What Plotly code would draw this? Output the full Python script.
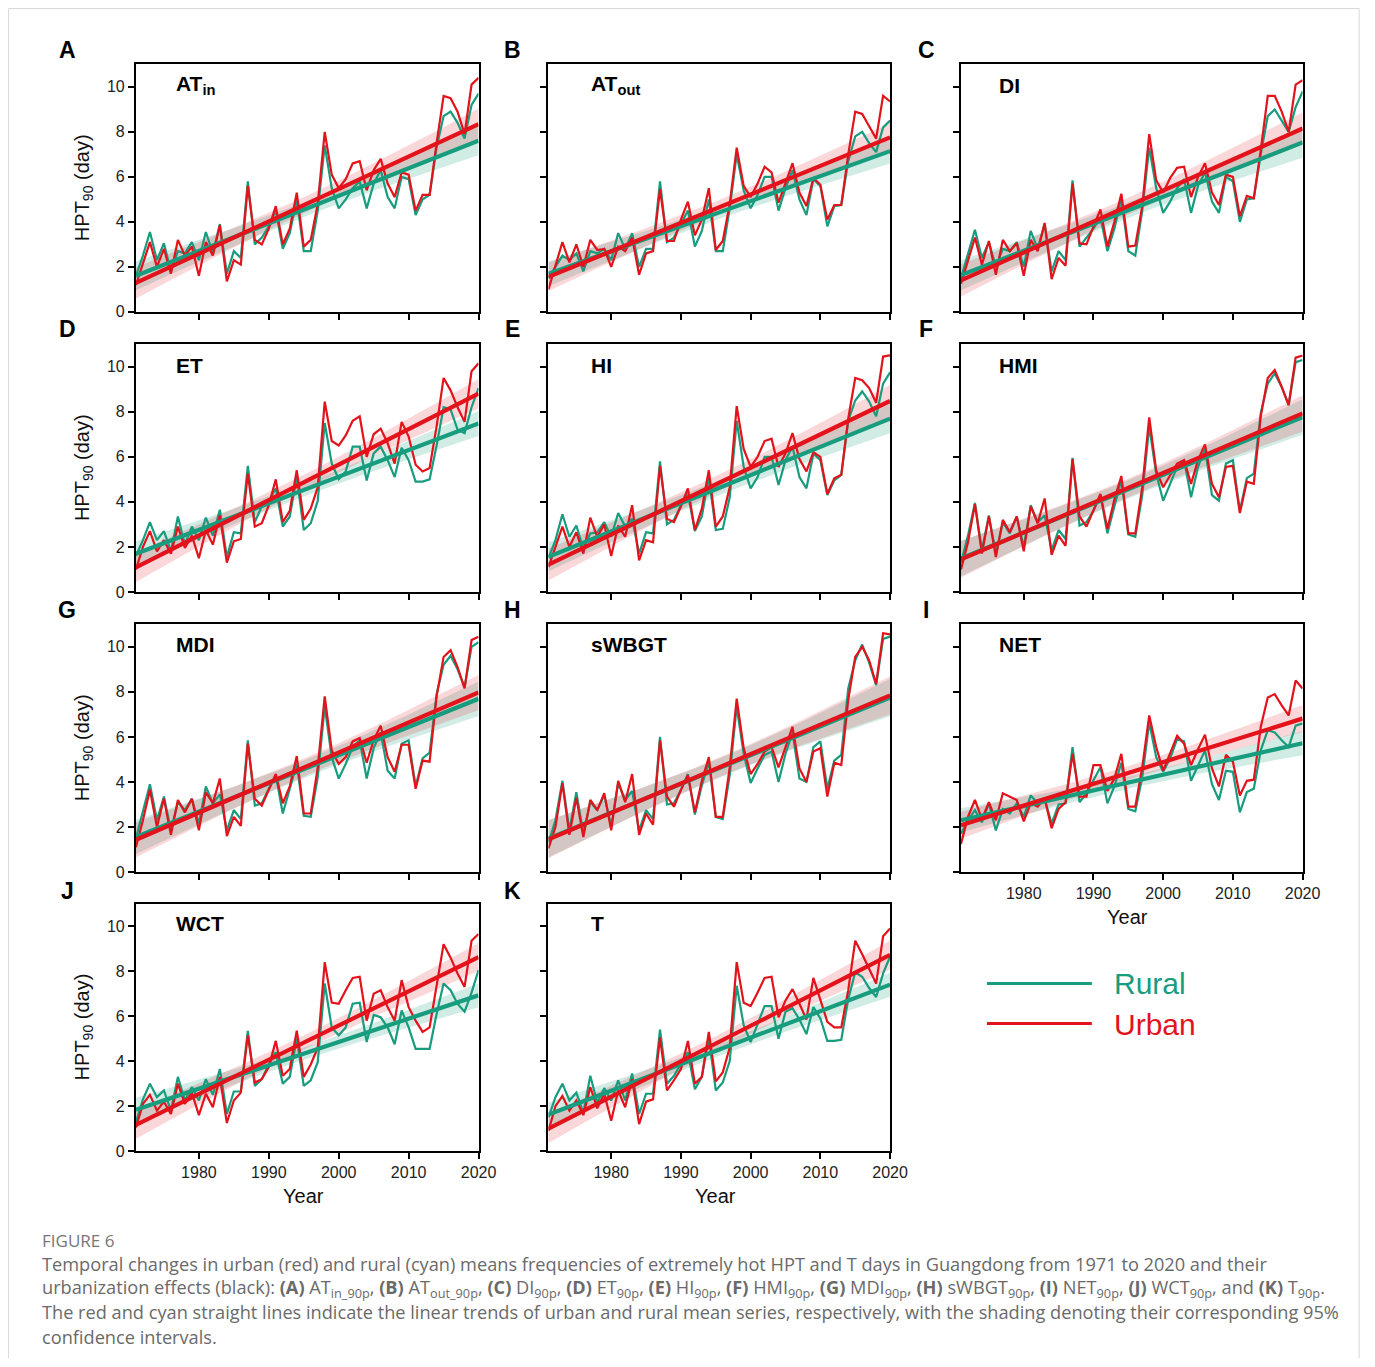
import numpy as np
import plotly.graph_objects as go

YEARS = list(range(1971, 2021))

PANEL_LETTERS = ["A", "B", "C", "D", "E", "F", "G", "H", "I", "J", "K"]
PANEL_NAMES = ["AT<sub>in</sub>", "AT<sub>out</sub>", "DI", "ET", "HI", "HMI",
               "MDI", "sWBGT", "NET", "WCT", "T"]
X_TICKS = [1980, 1990, 2000, 2010, 2020]
Y_TICKS = [0, 2, 4, 6, 8, 10]

AT_IN_URBAN = [1.2, 2.2, 3.1, 2.0, 2.8, 1.7, 3.2, 2.5, 2.9, 1.6,
               3.1, 2.5, 3.85, 1.35, 2.3, 2.1, 5.6, 3.2, 3.0, 3.7,
               4.7, 3.0, 3.7, 5.3, 2.9, 3.2, 4.8, 8.0, 6.1, 5.5,
               5.9, 6.6, 6.7, 5.4, 6.3, 6.8, 5.7, 5.1, 6.2, 6.1,
               4.5, 5.2, 5.2, 7.5, 9.6, 9.5, 8.9, 7.9, 10.1, 10.4]
AT_IN_RURAL = [1.6, 2.5, 3.55, 2.3, 3.05, 1.8, 2.7, 2.6, 3.1, 2.3,
               3.55, 2.6, 3.9, 1.7, 2.7, 2.4, 5.8, 3.0, 3.3, 3.8,
               4.5, 2.8, 3.5, 5.0, 2.7, 2.7, 4.5, 7.4, 5.5, 4.6,
               5.0, 5.5, 5.8, 4.6, 5.7, 6.3, 5.1, 4.6, 6.0, 5.9,
               4.3, 5.0, 5.2, 7.3, 8.7, 8.9, 8.4, 7.7, 9.2, 9.7]

AT_OUT_URBAN = [1.0, 2.0, 3.1, 2.2, 3.0, 2.0, 3.2, 2.75, 2.8, 2.0,
                2.9, 2.7, 3.3, 1.65, 2.6, 2.7, 5.45, 3.15, 3.15, 4.1,
                4.9, 3.4, 4.1, 5.5, 2.75, 3.15, 4.8, 7.3, 5.6, 5.1,
                5.7, 6.45, 6.2, 4.85, 5.7, 6.6, 5.3, 4.7, 5.95, 5.65,
                4.1, 4.75, 4.75, 7.0, 8.9, 8.8, 8.25, 7.7, 9.6, 9.35]
AT_OUT_RURAL = [1.5, 2.0, 2.5, 2.3, 2.6, 1.8, 2.7, 2.6, 2.8, 2.3,
                3.5, 2.8, 3.5, 2.0, 2.8, 2.8, 5.8, 3.1, 3.3, 3.9,
                4.5, 2.9, 3.6, 5.0, 2.7, 2.7, 4.6, 7.0, 5.4, 4.6,
                5.2, 6.0, 6.0, 4.5, 5.5, 6.3, 5.0, 4.3, 5.9, 5.6,
                3.8, 4.7, 4.75, 6.7, 7.8, 8.0, 7.5, 7.1, 8.2, 8.5]

DI_URBAN = [1.25, 2.3, 3.3, 2.1, 3.15, 1.65, 3.2, 2.7, 3.05, 1.6,
            3.2, 2.7, 3.95, 1.45, 2.4, 2.05, 5.7, 3.05, 3.0, 3.8,
            4.55, 2.9, 4.0, 5.25, 2.9, 2.95, 4.7, 7.9, 5.85, 5.3,
            5.95, 6.4, 6.45, 5.1, 6.0, 6.6, 5.3, 4.75, 6.1, 6.0,
            4.25, 5.15, 5.05, 7.2, 9.6, 9.6, 8.9, 8.0, 10.1, 10.3]
DI_RURAL = [1.5, 2.6, 3.65, 2.4, 3.1, 2.0, 2.8, 2.7, 3.1, 2.0,
            3.6, 2.8, 3.9, 1.8, 2.7, 2.3, 5.85, 2.9, 3.3, 3.7,
            4.2, 2.7, 3.7, 5.0, 2.7, 2.5, 4.5, 7.3, 5.5, 4.4,
            4.9, 5.5, 5.9, 4.4, 5.6, 6.2, 4.9, 4.4, 6.0, 5.8,
            4.0, 5.0, 5.05, 7.0, 8.7, 9.0, 8.5, 8.0, 9.1, 9.8]

ET_URBAN = [1.0, 2.0, 2.7, 1.8, 2.3, 1.7, 2.9, 1.95, 2.5, 1.5,
            2.75, 2.1, 3.4, 1.3, 2.25, 2.35, 5.25, 2.9, 3.05, 3.85,
            5.0, 3.1, 3.6, 5.4, 3.2, 3.7, 4.65, 8.45, 6.7, 6.5,
            6.95, 7.6, 7.8, 6.0, 7.0, 7.25, 6.6, 5.7, 7.55, 6.9,
            5.65, 5.35, 5.5, 7.35, 9.5, 8.95, 8.2, 7.55, 9.8, 10.15]
ET_RURAL = [1.6, 2.3, 3.1, 2.3, 2.7, 1.8, 3.35, 2.1, 2.9, 2.3,
            3.3, 2.5, 3.65, 1.55, 2.65, 2.6, 5.6, 3.1, 3.8, 4.0,
            4.6, 2.9, 3.35, 5.1, 2.75, 3.05, 4.05, 7.5, 5.7, 5.0,
            5.35, 6.45, 6.45, 4.95, 6.15, 6.45, 5.85, 5.1, 6.4, 5.85,
            4.9, 4.9, 5.0, 6.5, 8.2, 8.1, 7.2, 7.05, 8.2, 9.05]

HI_URBAN = [1.1, 2.0, 2.9, 2.0, 2.65, 1.7, 3.3, 2.45, 3.0, 1.6,
            2.95, 2.45, 3.85, 1.4, 2.3, 2.2, 5.6, 3.25, 3.1, 3.8,
            4.6, 2.75, 3.7, 5.4, 2.9, 3.35, 4.65, 8.25, 6.35, 5.55,
            6.0, 6.7, 6.8, 5.55, 6.15, 7.05, 5.9, 5.35, 6.2, 6.0,
            4.35, 5.05, 5.2, 7.7, 9.5, 9.4, 9.05, 8.4, 10.45, 10.5]
HI_RURAL = [1.5, 2.3, 3.45, 2.45, 2.95, 1.9, 2.6, 2.65, 3.1, 2.45,
            3.5, 2.9, 3.25, 1.7, 2.65, 2.6, 5.8, 3.0, 3.2, 3.85,
            4.35, 2.7, 3.35, 5.1, 2.75, 2.8, 4.2, 7.6, 5.55, 4.6,
            5.1, 6.0, 6.0, 4.75, 5.85, 6.45, 5.1, 4.6, 6.15, 5.85,
            4.3, 4.95, 5.2, 7.6, 8.5, 8.9, 8.45, 7.8, 9.25, 9.75]

HMI_URBAN = [1.0, 2.2, 3.9, 1.7, 3.35, 1.55, 3.2, 2.65, 3.35, 1.8,
             3.8, 3.05, 4.15, 1.65, 2.5, 2.05, 5.9, 3.35, 2.9, 3.6,
             4.35, 2.8, 4.1, 5.15, 2.6, 2.6, 4.65, 7.75, 5.4, 4.65,
             5.2, 5.7, 5.85, 4.8, 5.85, 6.55, 4.8, 4.2, 5.55, 5.6,
             3.5, 4.9, 4.8, 7.8, 9.5, 9.85, 9.1, 8.3, 10.4, 10.5]
HMI_RURAL = [1.3, 2.5, 3.95, 1.85, 3.4, 1.7, 3.1, 2.6, 3.35, 2.0,
             3.85, 3.1, 3.4, 1.85, 2.75, 2.35, 5.95, 2.95, 3.1, 3.6,
             4.3, 2.6, 3.8, 4.95, 2.55, 2.45, 4.3, 7.35, 5.25, 4.05,
             4.8, 5.55, 5.85, 4.2, 5.55, 6.35, 4.3, 4.05, 5.7, 5.85,
             3.6, 5.05, 5.25, 7.95, 9.25, 9.7, 9.1, 8.3, 10.2, 10.3]

MDI_URBAN = [1.1, 2.3, 3.65, 2.0, 3.25, 1.65, 3.2, 2.65, 3.25, 1.85,
             3.55, 3.05, 4.15, 1.6, 2.45, 2.05, 5.7, 3.25, 2.95, 3.65,
             4.35, 3.05, 3.8, 5.15, 2.6, 2.6, 4.65, 7.8, 5.4, 4.8,
             5.1, 5.8, 5.95, 4.85, 5.85, 6.5, 5.1, 4.45, 5.65, 5.65,
             3.7, 4.95, 4.9, 7.8, 9.55, 9.85, 9.1, 8.15, 10.3, 10.45]
MDI_RURAL = [1.5, 2.7, 3.9, 2.3, 3.35, 1.85, 3.1, 2.75, 3.25, 2.15,
             3.8, 3.05, 3.45, 1.85, 2.75, 2.35, 5.85, 2.95, 3.05, 3.7,
             4.3, 2.6, 3.7, 4.8, 2.5, 2.45, 4.2, 7.35, 5.1, 4.15,
             4.8, 5.55, 5.85, 4.15, 5.5, 6.2, 4.5, 4.15, 5.7, 5.85,
             3.8, 5.05, 5.3, 7.9, 9.2, 9.6, 9.0, 8.2, 10.0, 10.2]

SWBGT_URBAN = [1.05, 2.0, 3.95, 1.65, 3.3, 1.55, 3.2, 2.75, 3.5, 1.85,
               4.05, 3.1, 4.35, 1.65, 2.6, 2.1, 5.85, 3.35, 2.9, 3.65,
               4.3, 2.65, 4.05, 5.1, 2.45, 2.45, 4.65, 7.7, 5.5, 4.35,
               4.8, 5.35, 5.55, 4.65, 5.55, 6.45, 4.6, 4.0, 5.35, 5.5,
               3.35, 4.85, 4.75, 7.65, 9.55, 10.0, 9.4, 8.35, 10.6, 10.55]
SWBGT_RURAL = [1.3, 2.3, 4.05, 1.85, 3.55, 1.7, 3.1, 2.75, 3.4, 2.05,
               3.95, 3.2, 3.6, 1.85, 2.75, 2.35, 6.0, 3.0, 3.05, 3.65,
               4.35, 2.55, 3.85, 4.9, 2.45, 2.35, 4.3, 7.35, 5.25, 3.95,
               4.6, 5.2, 5.35, 4.0, 5.25, 6.2, 4.15, 4.0, 5.55, 5.8,
               3.7, 4.95, 5.2, 8.15, 9.4, 10.1, 9.3, 8.3, 10.35, 10.45]

NET_URBAN = [1.25, 2.45, 3.2, 2.35, 3.1, 2.3, 3.5, 3.35, 3.2, 2.25,
             3.05, 2.9, 3.25, 1.95, 2.8, 3.1, 5.25, 3.35, 3.35, 4.75,
             4.75, 3.6, 4.15, 5.25, 2.9, 2.9, 4.65, 6.95, 5.55, 4.5,
             5.25, 6.05, 5.7, 4.75, 5.45, 6.1, 4.6, 3.8, 5.2, 4.9,
             3.4, 4.05, 4.1, 6.45, 7.75, 7.9, 7.4, 6.95, 8.5, 8.15]
NET_RURAL = [1.7, 2.3, 2.75, 2.2, 3.05, 1.85, 2.8, 2.6, 3.05, 2.45,
             3.4, 3.05, 3.25, 2.15, 3.0, 3.05, 5.55, 3.1, 3.5, 4.05,
             4.65, 3.05, 3.8, 4.85, 2.8, 2.7, 4.2, 6.65, 5.1, 4.45,
             5.05, 5.9, 5.8, 4.05, 4.75, 5.4, 3.9, 3.2, 4.5, 4.45,
             2.65, 3.55, 3.7, 5.4, 6.3, 6.2, 5.85, 5.55, 6.5, 6.6]

WCT_URBAN = [1.05, 2.1, 2.5, 1.8, 2.2, 1.65, 3.0, 2.1, 2.6, 1.6,
             2.55, 1.95, 3.3, 1.25, 2.25, 2.6, 5.15, 3.05, 3.2, 3.75,
             4.9, 3.35, 3.65, 5.35, 3.3, 3.85, 4.6, 8.4, 6.6, 6.55,
             7.15, 7.7, 7.75, 5.8, 7.0, 7.15, 6.4, 5.8, 7.6, 6.4,
             5.8, 5.3, 5.5, 7.45, 9.2, 8.6, 7.9, 7.3, 9.35, 9.65]
WCT_RURAL = [1.3, 2.3, 3.0, 2.4, 2.7, 1.8, 3.3, 2.25, 2.85, 2.25,
             3.2, 2.5, 3.65, 1.65, 2.65, 2.65, 5.35, 2.9, 3.2, 3.85,
             4.4, 3.0, 3.3, 5.0, 2.9, 3.15, 3.95, 7.45, 5.5, 5.15,
             5.5, 6.55, 6.6, 4.85, 6.05, 5.95, 5.5, 4.75, 6.25, 5.5,
             4.55, 4.55, 4.55, 6.1, 7.45, 7.15, 6.55, 6.2, 7.05, 8.05]

T_URBAN = [0.9, 2.0, 2.45, 1.8, 2.25, 1.6, 2.85, 1.9, 2.55, 1.35,
           2.7, 1.95, 3.2, 1.2, 2.2, 2.3, 5.05, 2.7, 3.15, 3.65,
           4.9, 3.0, 3.3, 5.3, 3.1, 3.5, 4.6, 8.4, 6.6, 6.45,
           7.05, 7.7, 7.75, 5.95, 6.7, 7.2, 6.55, 5.85, 7.7, 6.75,
           5.75, 5.5, 5.5, 7.15, 9.35, 8.75, 8.1, 7.45, 9.55, 9.9]
T_RURAL = [1.5, 2.4, 3.0, 2.25, 2.6, 1.7, 3.35, 2.15, 2.8, 2.25,
           3.15, 2.25, 3.45, 1.65, 2.55, 2.55, 5.4, 3.0, 3.35, 3.9,
           4.4, 2.75, 3.3, 5.05, 2.7, 3.05, 4.0, 7.35, 5.6, 4.85,
           5.65, 6.45, 6.45, 5.0, 6.2, 6.35, 5.85, 5.2, 6.4, 5.9,
           4.9, 4.9, 4.95, 6.75, 7.95, 7.75, 7.25, 6.85, 7.9, 8.65]

PANEL_DATA = [
    (AT_IN_URBAN, AT_IN_RURAL), (AT_OUT_URBAN, AT_OUT_RURAL), (DI_URBAN, DI_RURAL),
    (ET_URBAN, ET_RURAL), (HI_URBAN, HI_RURAL), (HMI_URBAN, HMI_RURAL),
    (MDI_URBAN, MDI_RURAL), (SWBGT_URBAN, SWBGT_RURAL), (NET_URBAN, NET_RURAL),
    (WCT_URBAN, WCT_RURAL), (T_URBAN, T_RURAL),
]

# ---------------- styling / layout ----------------
RED = "#E3121B"
TEAL = "#189C7E"
RED_FILL = "rgba(227,18,27,0.17)"
TEAL_FILL = "rgba(24,156,126,0.20)"
FONT = "Arial, Liberation Sans, Helvetica, sans-serif"
T_CRIT = 2.0106  # t(0.975, df=48)

# page placement (8px body margin; the capture is slightly rescaled)
OFF = 8
SX, SY = 0.988, 0.993
FW, FH = 1370, 1350


def px(x):
    return min(1.0, max(0.0, (x / SX - OFF) / FW))


def py(y):
    return min(1.0, max(0.0, 1 - (y / SY - OFF) / FH))


COL_X = [(136, 479), (549, 891), (962, 1304)]
ROW_Y = [(64.3, 311.7), (344, 591.7), (624, 871.7), (903.3, 1150.7)]
LETTER_X = [67, 513, 927]
LETTER_Y = [50, 329, 610, 891]
NAME_X = [174, 590, 998]
NAME_Y = [85, 365, 644, 923]
XLABEL_PANELS = {8, 9, 10}


def trend_ci(values):
    x = np.array(YEARS, dtype=float)
    y = np.array(values, dtype=float)
    slope, intercept = np.polyfit(x, y, 1)
    yhat = intercept + slope * x
    n = len(x)
    s = np.sqrt(np.sum((y - yhat) ** 2) / (n - 2))
    dx = x - x.mean()
    se = s * np.sqrt(1.0 / n + dx ** 2 / np.sum(dx ** 2))
    return yhat, yhat - T_CRIT * se, yhat + T_CRIT * se


fig = go.Figure()
layout = {}
annotations = []

for i, (urban, rural) in enumerate(PANEL_DATA):
    r, c = divmod(i, 3)
    k = "" if i == 0 else str(i + 1)
    xa, ya = "x" + k, "y" + k

    series = [(rural, TEAL, TEAL_FILL), (urban, RED, RED_FILL)]
    fits = [trend_ci(v) for v, _, _ in series]

    for (v, col, fill), (yhat, lo, hi) in zip(series, fits):
        fig.add_trace(go.Scatter(
            x=YEARS + YEARS[::-1], y=list(hi) + list(lo[::-1]),
            fill="toself", fillcolor=fill, line=dict(width=0),
            mode="lines", hoverinfo="skip", showlegend=False,
            xaxis=xa, yaxis=ya))
    for v, col, fill in series:
        fig.add_trace(go.Scatter(
            x=YEARS, y=v, mode="lines", line=dict(color=col, width=2.2),
            showlegend=False, xaxis=xa, yaxis=ya))
    for (v, col, fill), (yhat, lo, hi) in zip(series, fits):
        fig.add_trace(go.Scatter(
            x=YEARS, y=yhat, mode="lines", line=dict(color=col, width=4.2),
            showlegend=False, xaxis=xa, yaxis=ya))

    x0, x1 = COL_X[c]
    y0, y1 = ROW_Y[r]
    layout["xaxis" + k] = dict(
        domain=[px(x0), px(x1)], anchor=ya, range=[1971, 2020],
        tickvals=X_TICKS, showticklabels=(i in XLABEL_PANELS),
        ticks="outside", ticklen=6, tickwidth=1.6, tickcolor="black",
        showline=True, linewidth=2, linecolor="black", mirror=True,
        showgrid=False, zeroline=False,
        tickfont=dict(family=FONT, size=16, color="#222"))
    layout["yaxis" + k] = dict(
        domain=[py(y1), py(y0)], anchor=xa, range=[0, 11],
        tickvals=Y_TICKS, showticklabels=(c == 0),
        ticks="outside", ticklen=6, tickwidth=1.6, tickcolor="black",
        showline=True, linewidth=2, linecolor="black", mirror=True,
        showgrid=False, zeroline=False,
        tickfont=dict(family=FONT, size=16, color="#222"))

    annotations.append(dict(
        text="<b>%s</b>" % PANEL_LETTERS[i], x=px(LETTER_X[c]), y=py(LETTER_Y[r]),
        xref="paper", yref="paper", xanchor="center", yanchor="middle",
        showarrow=False, font=dict(family=FONT, size=23, color="black")))
    annotations.append(dict(
        text="<b>%s</b>" % PANEL_NAMES[i], x=px(NAME_X[c]), y=py(NAME_Y[r]),
        xref="paper", yref="paper", xanchor="left", yanchor="middle",
        showarrow=False, font=dict(family=FONT, size=21, color="black")))
    if c == 0:
        annotations.append(dict(
            text="HPT<sub>90</sub> (day)", x=px(83), y=py((y0 + y1) / 2),
            xref="paper", yref="paper", xanchor="center", yanchor="middle",
            textangle=-90, showarrow=False,
            font=dict(family=FONT, size=20, color="#111")))
    if i in XLABEL_PANELS:
        annotations.append(dict(
            text="Year", x=px((x0 + x1) / 2 - 4), y=py(y1 + 45),
            xref="paper", yref="paper", xanchor="center", yanchor="middle",
            showarrow=False, font=dict(family=FONT, size=20, color="#111")))

# legend (drawn in the empty 12th cell)
shapes = [
    dict(type="line", xref="paper", yref="paper", x0=px(988), x1=px(1093),
         y0=py(983), y1=py(983), line=dict(color=TEAL, width=3)),
    dict(type="line", xref="paper", yref="paper", x0=px(988), x1=px(1093),
         y0=py(1023), y1=py(1023), line=dict(color=RED, width=3)),
    dict(type="rect", xref="paper", yref="paper", x0=px(8.5), x1=0.9994,
         y0=-0.05, y1=py(8.5), line=dict(color="#d8d8d8", width=1)),
]
annotations.append(dict(text="Rural", x=px(1113), y=py(983), xref="paper", yref="paper",
                        xanchor="left", yanchor="middle", showarrow=False,
                        font=dict(family=FONT, size=30, color=TEAL)))
annotations.append(dict(text="Urban", x=px(1113), y=py(1024), xref="paper", yref="paper",
                        xanchor="left", yanchor="middle", showarrow=False,
                        font=dict(family=FONT, size=30, color=RED)))

# caption
CAP_FONT = "Open Sans, Noto Sans, sans-serif"
CAP_COLOR = "#6a6a6a"
caption_lines = [
    "Temporal changes in urban (red) and rural (cyan) means frequencies of extremely hot HPT and T days in Guangdong from 1971 to 2020 and their",
    "urbanization effects (black): <b>(A)</b> AT<sub>in_90p</sub>, <b>(B)</b> AT<sub>out_90p</sub>, "
    "<b>(C)</b> DI<sub>90p</sub>, <b>(D)</b> ET<sub>90p</sub>, <b>(E)</b> HI<sub>90p</sub>, "
    "<b>(F)</b> HMI<sub>90p</sub>, <b>(G)</b> MDI<sub>90p</sub>, <b>(H)</b> sWBGT<sub>90p</sub>, "
    "<b>(I)</b> NET<sub>90p</sub>, <b>(J)</b> WCT<sub>90p</sub>, and <b>(K)</b> T<sub>90p</sub>.",
    "The red and cyan straight lines indicate the linear trends of urban and rural mean series, respectively, with the shading denoting their corresponding 95%",
    "confidence intervals.",
]
annotations.append(dict(text="FIGURE 6", x=px(40), y=py(1240), xref="paper", yref="paper",
                        xanchor="left", yanchor="middle", showarrow=False,
                        font=dict(family=CAP_FONT, size=17, color="#777")))
for j, line in enumerate(caption_lines):
    annotations.append(dict(text=line, x=px(40), y=py(1264 + 24 * j), xref="paper",
                            yref="paper", xanchor="left", yanchor="middle",
                            showarrow=False, align="left",
                            font=dict(family=CAP_FONT, size=18.2, color=CAP_COLOR)))

fig.update_layout(
    width=FW, height=FH, margin=dict(l=0, r=0, t=0, b=0, pad=0),
    paper_bgcolor="white", plot_bgcolor="white", showlegend=False,
    annotations=annotations, shapes=shapes, **layout)

fig.write_html("out.html")
